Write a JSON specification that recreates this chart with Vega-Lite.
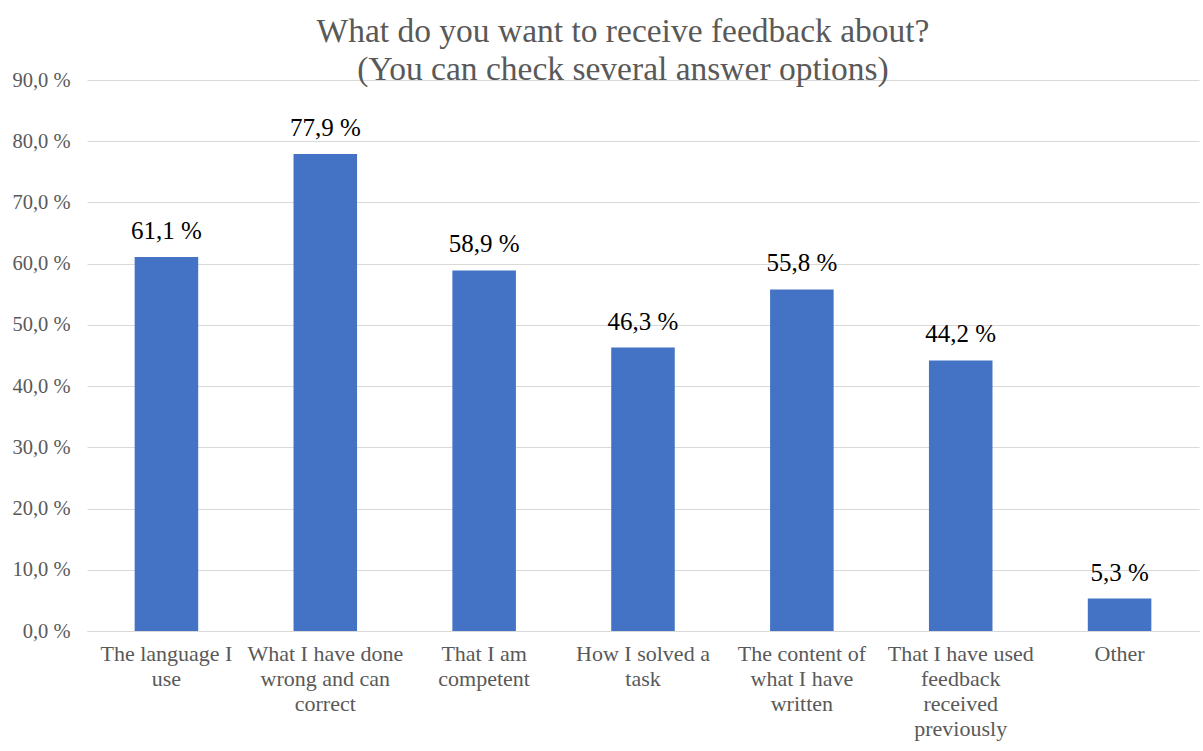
{
  "$schema": "https://vega.github.io/schema/vega-lite/v6.json",
  "width": 1112,
  "height": 551,
  "autosize": {"type": "none"},
  "padding": {"left": 87, "top": 80, "right": 4, "bottom": 120},
  "background": "white",
  "title": {
    "text": ["What do you want to receive feedback about?", "(You can check several answer options)"],
    "font": "Liberation Serif",
    "fontSize": 33.5,
    "fontWeight": "normal",
    "color": "#595959",
    "lineHeight": 38,
    "anchor": "middle",
    "dx": -20,
    "offset": -17
  },
  "data": {
    "values": [
      {"cat": "The language I|use", "v": 61.1},
      {"cat": "What I have done|wrong and can|correct", "v": 77.9},
      {"cat": "That I am|competent", "v": 58.9},
      {"cat": "How I solved a|task", "v": 46.3},
      {"cat": "The content of|what I have|written", "v": 55.8},
      {"cat": "That I have used|feedback|received|previously", "v": 44.2},
      {"cat": "Other", "v": 5.3}
    ]
  },
  "transform": [
    {"calculate": "replace(format(datum.v, '.1f'), '.', ',') + ' %'", "as": "lbl"}
  ],
  "encoding": {
    "x": {
      "field": "cat",
      "type": "nominal",
      "sort": null,
      "scale": {"paddingInner": 0.6, "paddingOuter": 0.3},
      "axis": {
        "title": null,
        "labelAngle": 0,
        "labelExpr": "split(datum.value, '|')",
        "labelFont": "Liberation Serif",
        "labelFontSize": 22,
        "labelColor": "#595959",
        "labelLineHeight": 25,
        "labelPadding": 12,
        "labelBaseline": "top",
        "ticks": false,
        "domainColor": "#d9d9d9",
        "domainWidth": 1,
        "grid": false
      }
    },
    "y": {
      "field": "v",
      "type": "quantitative",
      "scale": {"domain": [0, 90], "nice": false},
      "axis": {
        "title": null,
        "values": [0, 10, 20, 30, 40, 50, 60, 70, 80, 90],
        "labelExpr": "replace(format(datum.value, '.1f'), '.', ',') + ' %'",
        "labelFont": "Liberation Serif",
        "labelFontSize": 20.5,
        "labelColor": "#595959",
        "labelPadding": 17,
        "ticks": false,
        "domain": false,
        "gridColor": "#d9d9d9",
        "gridWidth": 1
      }
    }
  },
  "layer": [
    {"mark": {"type": "bar", "color": "#4472c4"}},
    {
      "mark": {
        "type": "text",
        "font": "Liberation Serif",
        "fontSize": 25,
        "color": "#000000",
        "baseline": "alphabetic",
        "dy": -18
      },
      "encoding": {"text": {"field": "lbl"}}
    }
  ],
  "config": {"view": {"stroke": null}, "text": {"font": "Liberation Serif"}}
}
